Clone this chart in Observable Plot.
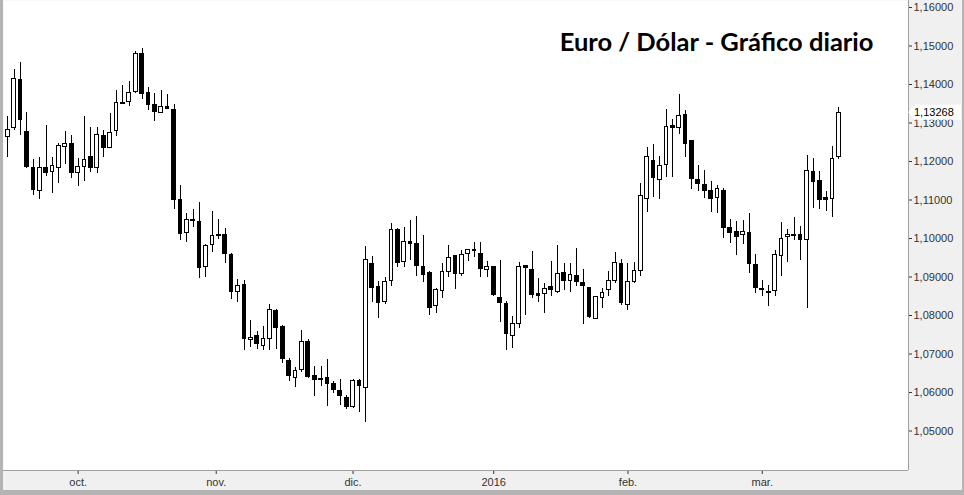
<!DOCTYPE html>
<html><head><meta charset="utf-8">
<script src="https://cdn.jsdelivr.net/npm/d3@7"></script>
<script src="https://cdn.jsdelivr.net/npm/@observablehq/plot@0.6"></script>
<style>
html,body{margin:0;padding:0;background:#fff;}
#chart svg{display:block;}
</style></head><body><div id="chart"></div>
<script>
const title = "Euro / Dólar - Gráfico diario";
const opens = [1.1264,1.1288,1.1413,1.1277,1.1184,1.1123,1.1184,1.1173,1.1184,1.1238,1.1246,1.1171,1.1186,1.1212,1.1183,1.1265,1.1236,1.1280,1.1353,1.1355,1.1380,1.1478,1.1377,1.1348,1.1327,1.1342,1.1335,1.1101,1.1015,1.1049,1.1044,1.0925,1.0983,1.1010,1.1010,1.0958,1.0862,1.0880,1.0736,1.0748,1.0720,1.0740,1.0811,1.0770,1.0681,1.0637,1.0659,1.0731,1.0642,1.0636,1.0638,1.0621,1.0605,1.0586,1.0562,1.0629,1.0611,1.0935,1.0875,1.0834,1.0889,1.1021,1.0938,1.0990,1.0987,1.0925,1.0910,1.0824,1.0864,1.0914,1.0954,1.0908,1.0960,1.0971,1.0960,1.0919,1.0927,1.0846,1.0829,1.0747,1.0778,1.0928,1.0919,1.0855,1.0856,1.0873,1.0862,1.0911,1.0890,1.0903,1.0885,1.0871,1.0791,1.0846,1.0867,1.0890,1.0934,1.0828,1.0886,1.0916,1.1103,1.1202,1.1152,1.1191,1.1291,1.1288,1.1321,1.1252,1.1151,1.1139,1.1124,1.1106,1.1124,1.1026,1.1016,1.1010,1.1013,1.0930,1.0870,1.0862,1.0864,1.0954,1.1003,1.1010,1.1008,1.0997,1.1173,1.1150,1.1104,1.1103,1.1212];
const highs = [1.1317,1.1439,1.1458,1.1327,1.1204,1.1210,1.1294,1.1210,1.1246,1.1278,1.1268,1.1207,1.1317,1.1289,1.1288,1.1281,1.1324,1.1384,1.1397,1.1408,1.1487,1.1494,1.1391,1.1377,1.1384,1.1374,1.1348,1.1138,1.1064,1.1075,1.1093,1.0984,1.1070,1.1049,1.1025,1.0960,1.0894,1.0891,1.0787,1.0759,1.0771,1.0829,1.0816,1.0774,1.0688,1.0664,1.0761,1.0738,1.0668,1.0668,1.0686,1.0629,1.0633,1.0592,1.0634,1.0633,1.0980,1.0953,1.0888,1.0900,1.1040,1.1025,1.1029,1.1047,1.1057,1.1008,1.0913,1.0871,1.0936,1.0982,1.0956,1.0969,1.0971,1.0989,1.0989,1.0940,1.0928,1.0943,1.0837,1.0797,1.0938,1.0930,1.0967,1.0895,1.0882,1.0940,1.0982,1.0934,1.0934,1.0973,1.0919,1.0874,1.0848,1.0871,1.0914,1.0964,1.0945,1.0934,1.0938,1.1143,1.1236,1.1243,1.1213,1.1335,1.1309,1.1374,1.1332,1.1255,1.1190,1.1177,1.1148,1.1138,1.1131,1.1049,1.1044,1.1047,1.1065,1.0958,1.0891,1.0878,1.0969,1.1042,1.1023,1.1055,1.1031,1.1216,1.1208,1.1174,1.1122,1.1239,1.1339];
const lows = [1.1211,1.1281,1.1268,1.1181,1.1112,1.1101,1.1162,1.1116,1.1144,1.1192,1.1157,1.1134,1.1149,1.1172,1.1170,1.1210,1.1250,1.1265,1.1348,1.1343,1.1377,1.1362,1.1332,1.1305,1.1324,1.1334,1.1075,1.0995,1.0990,1.1028,1.0895,1.0900,1.0964,1.0997,1.0934,1.0842,1.0833,1.0709,1.0718,1.0711,1.0709,1.0709,1.0712,1.0675,1.0629,1.0614,1.0653,1.0636,1.0590,1.0616,1.0564,1.0598,1.0566,1.0556,1.0558,1.0549,1.0521,1.0835,1.0793,1.0829,1.0876,1.0924,1.0925,1.0943,1.0902,1.0887,1.0800,1.0804,1.0845,1.0900,1.0868,1.0902,1.0941,1.0951,1.0898,1.0898,1.0850,1.0781,1.0709,1.0714,1.0767,1.0800,1.0845,1.0834,1.0804,1.0850,1.0856,1.0865,1.0859,1.0876,1.0776,1.0791,1.0789,1.0817,1.0849,1.0882,1.0827,1.0813,1.0882,1.0902,1.1068,1.1107,1.1102,1.1159,1.1159,1.1270,1.1211,1.1126,1.1122,1.1105,1.1068,1.1066,1.1001,1.0986,1.0956,1.0984,1.0910,1.0858,1.0850,1.0824,1.0849,1.0901,1.0938,1.0996,1.0943,1.0819,1.1079,1.1076,1.1071,1.1055,1.1204];
const closes = [1.1283,1.1415,1.1308,1.1186,1.1125,1.1184,1.1171,1.1189,1.1239,1.1246,1.1171,1.1186,1.1204,1.1183,1.1268,1.1236,1.1275,1.1351,1.1350,1.1378,1.1478,1.1375,1.1347,1.1328,1.1342,1.1336,1.1101,1.1012,1.1049,1.1046,1.0923,1.0981,1.1007,1.1006,1.0959,1.0861,1.0877,1.0738,1.0742,1.0725,1.0738,1.0815,1.0767,1.0686,1.0642,1.0657,1.0732,1.0640,1.0633,1.0632,1.0623,1.0607,1.0590,1.0562,1.0631,1.0617,1.0943,1.0871,1.0832,1.0888,1.1023,1.0937,1.0990,1.0985,1.0928,1.0905,1.0819,1.0865,1.0912,1.0950,1.0907,1.0956,1.0969,1.0967,1.0920,1.0927,1.0853,1.0833,1.0751,1.0778,1.0927,1.0923,1.0854,1.0850,1.0869,1.0867,1.0908,1.0890,1.0906,1.0888,1.0876,1.0796,1.0847,1.0859,1.0890,1.0937,1.0833,1.0888,1.0916,1.1111,1.1212,1.1157,1.1189,1.1290,1.1287,1.1319,1.1245,1.1154,1.1141,1.1123,1.1102,1.1129,1.1027,1.1014,1.1003,1.1017,1.0933,1.0871,1.0866,1.0858,1.0958,1.1000,1.1010,1.1006,1.0997,1.1176,1.1147,1.1101,1.1101,1.1207,1.13268];
const monthTickPos = [12, 33.6, 55, 77, 98, 119];
const monthTickLabels = ["oct.", "nov.", "dic.", "2016", "feb.", "mar."];
const priceTicks = [1.05, 1.06, 1.07, 1.08, 1.09, 1.10, 1.11, 1.12, 1.13, 1.14, 1.15, 1.16];

const data = opens.map((o, k) => ({i: k + 1, o, h: highs[k], l: lows[k], c: closes[k]}));
const up = data.filter(d => d.c >= d.o);
const down = data.filter(d => d.c < d.o);
const half = 0.29;
const fmt = v => d3.format(".5f")(v).replace(".", ",");
const xDomain = [0.33, 141.87];
const yDomain = [1.03974, 1.16182];
const axisGray = "#a0a0a0";

const plot = Plot.plot({
  width: 964, height: 495,
  marginTop: 0, marginBottom: 25, marginLeft: 3, marginRight: 56,
  style: {background: "transparent", fontFamily: "'Liberation Sans', Arial, sans-serif", fontSize: "11px", color: "#333"},
  x: {type: "linear", domain: xDomain, axis: "bottom", ticks: monthTickPos,
      tickFormat: d => monthTickLabels[monthTickPos.indexOf(d)], tickSize: 4, tickPadding: 4, label: null},
  y: {domain: yDomain, axis: "right", ticks: priceTicks, tickFormat: fmt, tickSize: 3, tickPadding: 2, label: null},
  marks: [
    Plot.frame({fill: "white", stroke: null}),
    Plot.ruleX([xDomain[1]], {stroke: axisGray}),
    Plot.ruleY([yDomain[0]], {stroke: axisGray}),
    Plot.ruleX(data, {x: "i", y1: "l", y2: "h", stroke: "black", strokeWidth: 1, shapeRendering: "crispEdges"}),
    Plot.rectY(up, {x1: d => d.i - half, x2: d => d.i + half, y1: "o", y2: "c", fill: "white", stroke: "black", strokeWidth: 1, shapeRendering: "crispEdges"}),
    Plot.rectY(down, {x1: d => d.i - half, x2: d => d.i + half, y1: "o", y2: "c", fill: "black", stroke: "black", strokeWidth: 1, shapeRendering: "crispEdges"}),
    Plot.text([title], {frameAnchor: "top-right", dx: -35, dy: 50, lineAnchor: "bottom", textAnchor: "end",
      fontSize: 25.5, fontWeight: "bold", fontFamily: "Lato, 'Open Sans', sans-serif", fill: "black"})
  ]
});

plot.style.background = "linear-gradient(to bottom, transparent 490px, #b4b4b4 490px), linear-gradient(to right, #b4b4b4 3px, #f0f0f0 3px, #f0f0f0 962px, #b4b4b4 962px)";
document.getElementById("chart").appendChild(plot);

// last price marker on the right axis
const svg = d3.select(plot);
const yLast = plot.scale("y").apply(closes[closes.length - 1]);
const xAxisRight = plot.scale("x").apply(xDomain[1]);
const g = svg.append("g");
g.append("path")
  .attr("d", `M${xAxisRight},${yLast} L${xAxisRight + 7},${yLast - 7.5} L${xAxisRight + 53},${yLast - 7.5} L${xAxisRight + 53},${yLast + 7.5} L${xAxisRight + 7},${yLast + 7.5} Z`)
  .attr("fill", "white");
g.append("text")
  .attr("x", xAxisRight + 6).attr("y", yLast).attr("dy", "0.35em")
  .attr("text-anchor", "start")
  .attr("font-family", "'Liberation Sans', Arial, sans-serif").attr("font-size", 11)
  .attr("fill", "black")
  .text(fmt(closes[closes.length - 1]));
</script>
</body></html>
